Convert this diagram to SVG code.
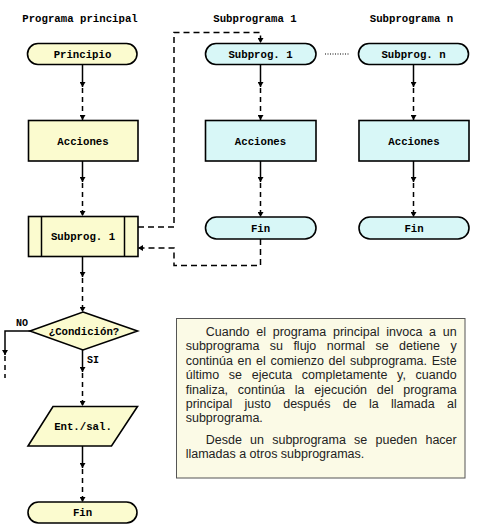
<svg xmlns="http://www.w3.org/2000/svg" width="485" height="529" viewBox="0 0 485 529">
<style>
.bg{fill:#ffffff}
.y{fill:#fbfbcf;stroke:#000;stroke-width:1.6}
.c{fill:#d8f7f7;stroke:#000;stroke-width:1.6}
.lbl{font-family:"Liberation Mono","Courier New",monospace;font-weight:bold;font-size:10.7px;fill:#000;text-anchor:middle}
.tit{font-family:"Liberation Mono","Courier New",monospace;font-weight:bold;font-size:10.7px;fill:#000;text-anchor:middle}
.sol{stroke:#000;stroke-width:1.5;fill:none}
.dsh{stroke:#000;stroke-width:1.5;fill:none;stroke-dasharray:5 4}
.call{stroke:#000;stroke-width:1.5;fill:none;stroke-dasharray:6 4}
.dot{stroke:#000;stroke-width:1;fill:none;stroke-dasharray:1 1.5}
.note{fill:#fbfae6;stroke:#555;stroke-width:1}
.txt{font-family:"Liberation Sans",Arial,sans-serif;font-size:12.5px;fill:#222}
</style>
<defs>
<marker id="ah" markerWidth="6" markerHeight="6" refX="5" refY="3" orient="auto" markerUnits="userSpaceOnUse">
<path d="M0,0 L5,3 L0,6 z" fill="#000"/>
</marker>
</defs>
<rect class="bg" x="0" y="0" width="485" height="529"/>
<g id="titles">
<text class="tit" x="80" y="21.5">Programa principal</text>
<text class="tit" x="255" y="21.5">Subprograma 1</text>
<text class="tit" x="411.5" y="21.5">Subprograma n</text>
</g>
<g id="connectors">
<line class="sol" x1="82.5" y1="64" x2="82.5" y2="87" marker-end="url(#ah)"/>
<line class="dsh" x1="82.5" y1="88" x2="82.5" y2="120" marker-end="url(#ah)"/>
<line class="sol" x1="82.5" y1="161" x2="82.5" y2="182" marker-end="url(#ah)"/>
<line class="dsh" x1="82.5" y1="183" x2="82.5" y2="216" marker-end="url(#ah)"/>
<line class="sol" x1="82.5" y1="256" x2="82.5" y2="277" marker-end="url(#ah)"/>
<line class="dsh" x1="82.5" y1="278" x2="82.5" y2="312" marker-end="url(#ah)"/>
<line class="sol" x1="82.5" y1="350" x2="82.5" y2="372" marker-end="url(#ah)"/>
<line class="dsh" x1="82.5" y1="373" x2="82.5" y2="406" marker-end="url(#ah)"/>
<line class="sol" x1="82.5" y1="446" x2="82.5" y2="468" marker-end="url(#ah)"/>
<line class="dsh" x1="82.5" y1="469" x2="82.5" y2="502" marker-end="url(#ah)"/>
<polyline class="sol" points="30,331 5,331 5,355" marker-end="url(#ah)"/>
<line class="dsh" x1="5" y1="356" x2="5" y2="378"/>
<line class="sol" x1="260.5" y1="64" x2="260.5" y2="87" marker-end="url(#ah)"/>
<line class="dsh" x1="260.5" y1="88" x2="260.5" y2="120" marker-end="url(#ah)"/>
<line class="sol" x1="260.5" y1="161" x2="260.5" y2="182" marker-end="url(#ah)"/>
<line class="dsh" x1="260.5" y1="183" x2="260.5" y2="217" marker-end="url(#ah)"/>
<line class="sol" x1="413.5" y1="64" x2="413.5" y2="87" marker-end="url(#ah)"/>
<line class="dsh" x1="413.5" y1="88" x2="413.5" y2="120" marker-end="url(#ah)"/>
<line class="sol" x1="413.5" y1="161" x2="413.5" y2="182" marker-end="url(#ah)"/>
<line class="dsh" x1="413.5" y1="183" x2="413.5" y2="217" marker-end="url(#ah)"/>
<polyline class="call" points="138,227 174,227 174,32.5 260.5,32.5 260.5,43" marker-end="url(#ah)"/>
<polyline class="call" points="260.5,239 260.5,265.5 174,265.5 174,248 138,248" marker-end="url(#ah)"/>
<line class="dot" x1="325" y1="54" x2="349" y2="54"/>
</g>
<g id="principio">
<rect class="y" x="27.5" y="43.5" width="109.5" height="21" rx="10.5"/>
<text class="lbl" x="82.5" y="57.5">Principio</text>
</g>
<g id="acciones-principal">
<rect class="y" x="28.5" y="120.5" width="109.5" height="40.5"/>
<text class="lbl" x="83" y="144.5">Acciones</text>
</g>
<g id="subprog-llamada">
<rect class="y" x="28.5" y="216.5" width="109.5" height="40"/>
<line class="sol" x1="41.5" y1="216.5" x2="41.5" y2="256.5" stroke-width="1.6"/>
<line class="sol" x1="124.5" y1="216.5" x2="124.5" y2="256.5" stroke-width="1.6"/>
<text class="lbl" x="83" y="239.5">Subprog. 1</text>
</g>
<g id="condicion">
<polygon class="y" points="83,312 137.5,331 83,350 30,331"/>
<text class="lbl" x="84" y="334.5">¿Condición?</text>
<text class="lbl" x="22" y="326" style="font-size:10px">NO</text>
<text class="lbl" x="87" y="362.5" style="text-anchor:start;font-size:10px">SI</text>
</g>
<g id="entsal">
<polygon class="y" points="53,406.5 137.5,406.5 111.5,446 28,446"/>
<text class="lbl" x="83" y="429.5">Ent./sal.</text>
</g>
<g id="fin-principal">
<rect class="y" x="28" y="502" width="109" height="21" rx="10.5"/>
<text class="lbl" x="82.5" y="516">Fin</text>
</g>
<g id="subprog1">
<rect class="c" x="205.5" y="43.5" width="110.5" height="21" rx="10.5"/>
<text class="lbl" x="260.5" y="57.5">Subprog. 1</text>
</g>
<g id="acciones-sub1">
<rect class="c" x="205.5" y="120.5" width="110.5" height="40.5"/>
<text class="lbl" x="260.5" y="144.5">Acciones</text>
</g>
<g id="fin-sub1">
<rect class="c" x="205.5" y="217" width="110.5" height="22" rx="11"/>
<text class="lbl" x="260.5" y="231.5">Fin</text>
</g>
<g id="subprogn">
<rect class="c" x="358.5" y="43.5" width="110" height="21" rx="10.5"/>
<text class="lbl" x="413.5" y="57.5">Subprog. n</text>
</g>
<g id="acciones-subn">
<rect class="c" x="359" y="120.5" width="110" height="40.5"/>
<text class="lbl" x="414" y="144.5">Acciones</text>
</g>
<g id="fin-subn">
<rect class="c" x="359" y="217" width="110" height="22" rx="11"/>
<text class="lbl" x="414" y="231.5">Fin</text>
</g>
<g id="nota">
<rect class="note" x="176.5" y="318.5" width="288.5" height="159.5"/>
<text class="txt" x="205.7" y="336" word-spacing="3.27" textLength="251" lengthAdjust="spacing">Cuando el programa principal invoca a un</text>
<text class="txt" x="185.7" y="350.4" word-spacing="6.96" textLength="271" lengthAdjust="spacing">subprograma su flujo normal se detiene y</text>
<text class="txt" x="185.7" y="364.8" word-spacing="1.16" textLength="271" lengthAdjust="spacing">continúa en el comienzo del subprograma. Este</text>
<text class="txt" x="185.7" y="379.2" word-spacing="6.12" textLength="271" lengthAdjust="spacing">último se ejecuta completamente y, cuando</text>
<text class="txt" x="185.7" y="393.6" word-spacing="6.26" textLength="271" lengthAdjust="spacing">finaliza, continúa la ejecución del programa</text>
<text class="txt" x="185.7" y="408" word-spacing="8.8" textLength="271" lengthAdjust="spacing">principal justo después de la llamada al</text>
<text class="txt" x="185.7" y="422.4">subprograma.</text>
<text class="txt" x="205.7" y="444" word-spacing="4.76" textLength="251" lengthAdjust="spacing">Desde un subprograma se pueden hacer</text>
<text class="txt" x="185.7" y="458.4">llamadas a otros subprogramas.</text>
</g>
</svg>
